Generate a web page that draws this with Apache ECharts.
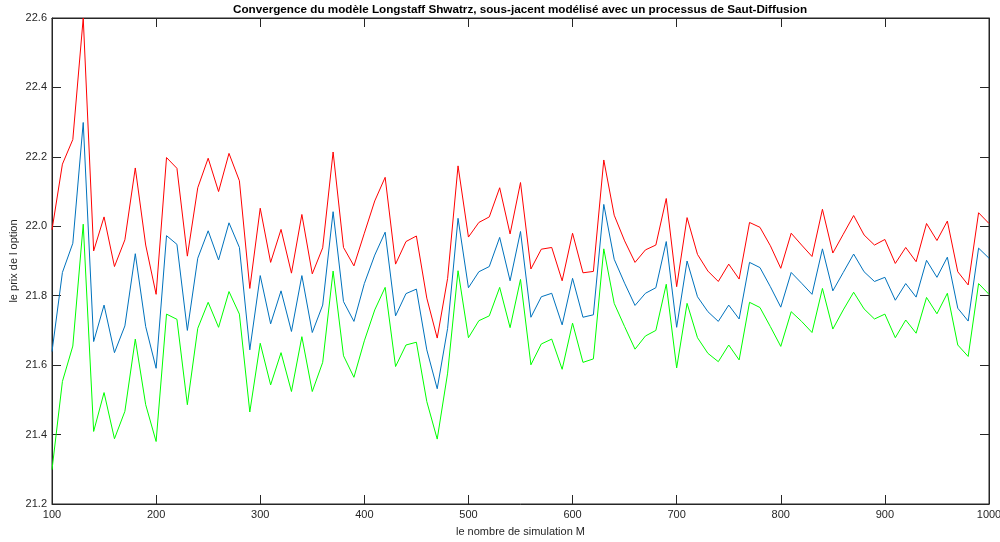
<!DOCTYPE html>
<html>
<head>
<meta charset="utf-8">
<script src="https://cdn.jsdelivr.net/npm/echarts@6/dist/echarts.min.js"></script>
<style>html,body{margin:0;padding:0;background:#fff}#c{width:1000px;height:542px}</style>
</head>
<body>
<div id="c"></div>
<script>
const M = [100,110,120,130,140,150,160,170,180,190,200,210,220,230,240,250,260,270,280,290,300,310,320,330,340,350,360,370,380,390,400,410,420,430,440,450,460,470,480,490,500,510,520,530,540,550,560,570,580,590,600,610,620,630,640,650,660,670,680,690,700,710,720,730,740,750,760,770,780,790,800,810,820,830,840,850,860,870,880,890,900,910,920,930,940,950,960,970,980,990,1000];
const upper = [21.99,22.179,22.25,22.60,21.929,22.027,21.884,21.961,22.168,21.946,21.804,22.198,22.167,21.914,22.111,22.196,22.100,22.210,22.131,21.821,22.052,21.896,21.991,21.865,22.034,21.863,21.938,22.214,21.939,21.886,21.98,22.073,22.141,21.891,21.956,21.972,21.793,21.678,21.850,22.174,21.969,22.011,22.027,22.111,21.978,22.126,21.877,21.934,21.939,21.843,21.980,21.866,21.870,22.191,22.032,21.958,21.896,21.932,21.946,22.080,21.826,22.025,21.919,21.871,21.841,21.891,21.848,22.011,21.997,21.944,21.879,21.980,21.946,21.913,22.049,21.923,21.977,22.031,21.975,21.946,21.962,21.893,21.939,21.898,22.008,21.959,22.015,21.869,21.831,22.039,22.008];
const price = [21.639,21.867,21.951,22.299,21.668,21.773,21.636,21.713,21.921,21.711,21.591,21.973,21.948,21.700,21.908,21.987,21.903,22.010,21.939,21.644,21.858,21.719,21.814,21.697,21.858,21.694,21.773,22.042,21.783,21.726,21.835,21.917,21.983,21.742,21.806,21.819,21.644,21.532,21.706,22.023,21.823,21.869,21.884,21.968,21.843,21.985,21.738,21.797,21.807,21.716,21.850,21.738,21.745,22.063,21.905,21.836,21.772,21.807,21.823,21.956,21.709,21.900,21.797,21.754,21.726,21.773,21.733,21.896,21.881,21.826,21.767,21.867,21.836,21.804,21.935,21.814,21.867,21.920,21.869,21.841,21.853,21.787,21.835,21.796,21.902,21.853,21.911,21.764,21.727,21.937,21.908];
const lower = [21.299,21.553,21.655,22.006,21.409,21.521,21.388,21.467,21.675,21.486,21.380,21.747,21.732,21.486,21.706,21.781,21.709,21.812,21.747,21.465,21.663,21.543,21.636,21.524,21.682,21.524,21.608,21.871,21.627,21.565,21.670,21.759,21.824,21.596,21.658,21.666,21.495,21.387,21.577,21.872,21.679,21.728,21.742,21.824,21.708,21.847,21.601,21.661,21.675,21.588,21.721,21.608,21.618,21.935,21.778,21.711,21.646,21.684,21.700,21.833,21.592,21.778,21.679,21.634,21.610,21.658,21.615,21.781,21.766,21.711,21.654,21.754,21.726,21.694,21.821,21.704,21.759,21.810,21.762,21.733,21.747,21.679,21.730,21.692,21.795,21.748,21.807,21.658,21.625,21.835,21.804];

const pairs = ys => M.map((m, i) => [m, ys[i]]);
const FONT = 'Liberation Sans';
const axisColor = '#262626';
const chart = echarts.init(document.getElementById('c'), null, {renderer: 'canvas'});
const tickStyle = {show: true, inside: true, length: 9, lineStyle: {color: axisColor, width: 1}};
chart.setOption({
  animation: false,
  backgroundColor: '#fff',
  title: {
    text: 'Convergence du modèle Longstaff Shwatrz, sous-jacent modélisé avec un processus de Saut-Diffusion',
    left: 520, top: 4, padding: 0, textAlign: 'center',
    textStyle: {fontFamily: FONT, fontSize: 11.7, fontWeight: 'bold', color: '#000'}
  },
  grid: {left: 52, right: 11, top: 18, bottom: 38, containLabel: false, outerBoundsMode: 'none',
         show: true, borderColor: axisColor, borderWidth: 1, backgroundColor: '#fff'},
  xAxis: [{
    type: 'value', min: 100, max: 1000, interval: 100, position: 'bottom',
    name: 'le nombre de simulation M', nameLocation: 'middle', nameGap: 22,
    nameTextStyle: {fontFamily: FONT, fontSize: 11, color: axisColor},
    axisLine: {show: true, lineStyle: {color: axisColor}},
    axisTick: tickStyle,
    axisLabel: {fontFamily: FONT, fontSize: 11, color: axisColor, margin: 5,
                formatter: v => String(v)},
    splitLine: {show: false}
  }, {
    type: 'value', min: 100, max: 1000, interval: 100, position: 'top',
    axisLine: {show: true, lineStyle: {color: axisColor}},
    axisTick: tickStyle, axisLabel: {show: false}, splitLine: {show: false}
  }],
  yAxis: [{
    type: 'value', min: 21.2, max: 22.6, interval: 0.2, position: 'left',
    name: 'le prix de l option', nameLocation: 'middle', nameGap: 33, nameRotate: 90,
    nameMoveOverlap: false,
    nameTextStyle: {fontFamily: FONT, fontSize: 11, color: axisColor},
    axisLine: {show: true, lineStyle: {color: axisColor}},
    axisTick: tickStyle,
    axisLabel: {fontFamily: FONT, fontSize: 11, color: axisColor, margin: 5,
                formatter: v => v.toFixed(1)},
    splitLine: {show: false}
  }, {
    type: 'value', min: 21.2, max: 22.6, interval: 0.2, position: 'right',
    axisLine: {show: true, lineStyle: {color: axisColor}},
    axisTick: tickStyle, axisLabel: {show: false}, splitLine: {show: false}
  }],
  series: [
    {type: 'line', name: 'upper', data: pairs(upper), showSymbol: false, lineStyle: {color: '#ff0000', width: 1}, itemStyle: {color: '#ff0000'}, clip: true},
    {type: 'line', name: 'price', data: pairs(price), showSymbol: false, lineStyle: {color: '#0072bd', width: 1}, itemStyle: {color: '#0072bd'}, clip: true},
    {type: 'line', name: 'lower', data: pairs(lower), showSymbol: false, lineStyle: {color: '#00ff00', width: 1}, itemStyle: {color: '#00ff00'}, clip: true}
  ]
});
</script>
</body>
</html>
